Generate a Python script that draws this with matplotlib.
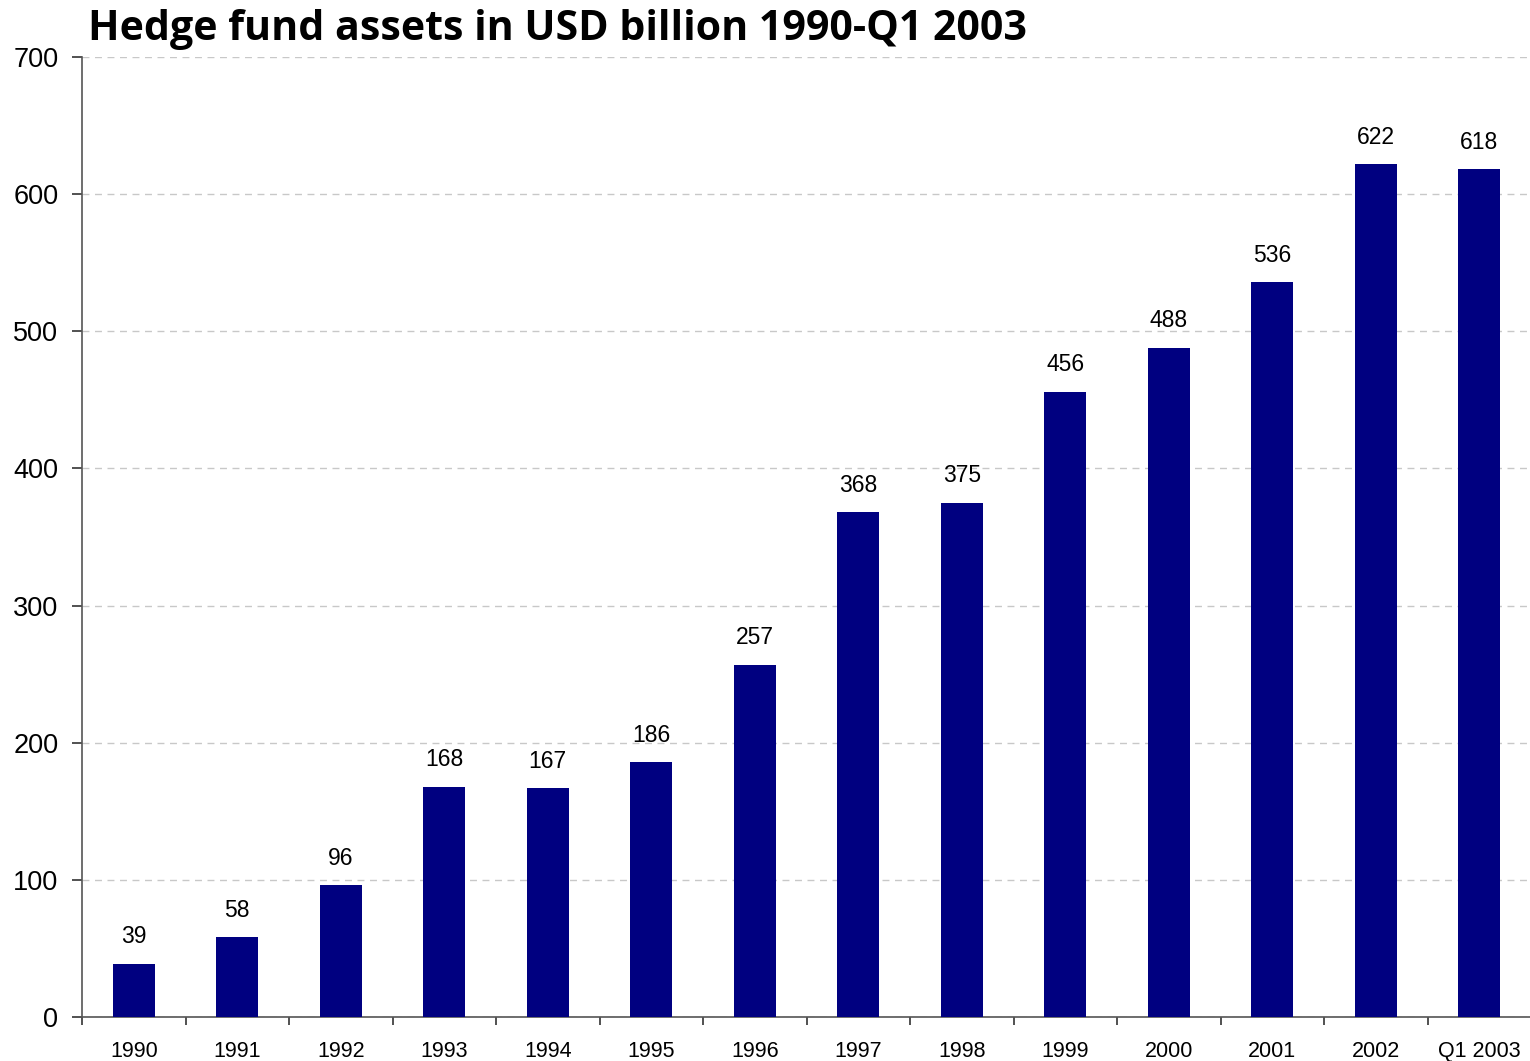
import matplotlib
matplotlib.use("Agg")
import matplotlib.pyplot as plt

categories = ["1990", "1991", "1992", "1993", "1994", "1995", "1996",
              "1997", "1998", "1999", "2000", "2001", "2002", "Q1 2003"]
assets = [39, 58, 96, 168, 167, 186, 257, 368, 375, 456, 488, 536, 622, 618]
y_ticks = [0, 100, 200, 300, 400, 500, 600, 700]

fig = plt.figure(figsize=(15.3, 10.61), dpi=100)
ax = fig.add_axes([82 / 1530, 44 / 1061, 1449 / 1530, 960 / 1061])

x = list(range(len(categories)))
bars = ax.bar(x, assets, width=0.41, color="#000080", zorder=3)

for xi, v in zip(x, assets):
    ax.annotate(str(v), (xi, v), xytext=(0, 11), textcoords="offset points",
                ha="center", va="bottom", fontsize=16.5,
                family="Liberation Sans", color="black")

ax.set_xlim(-0.5, len(categories) - 0.5)
ax.set_ylim(0, 700)
ax.set_yticks(y_ticks)
ax.set_yticklabels([str(t) for t in y_ticks], family="Liberation Sans", fontsize=19.5)
ax.set_xticks([i - 0.5 for i in range(len(categories))])
ax.set_xticklabels([])
ax.set_xticks(x, minor=True)
ax.set_xticklabels(categories, minor=True, family="Liberation Sans", fontsize=15.5)
ax.tick_params(axis="x", which="minor", length=0, pad=17)
ax.tick_params(axis="x", which="major", length=6, width=1.2, color="#333333")
ax.tick_params(axis="y", length=7, width=1.2, color="#333333", pad=10)

ax.grid(axis="y", color="#c8c8c8", linestyle=(0, (5, 4)), linewidth=1.0, zorder=0)
for s in ["top", "right"]:
    ax.spines[s].set_visible(False)
for s in ["left", "bottom"]:
    ax.spines[s].set_color("#555555")
    ax.spines[s].set_linewidth(1.2)

fig.text(88 / 1530, 1 - 29 / 1061, "Hedge fund assets in USD billion 1990-Q1 2003",
         ha="left", va="center", fontsize=29.6, fontweight="bold", family="Open Sans")

fig.savefig("out.png", dpi=100)
